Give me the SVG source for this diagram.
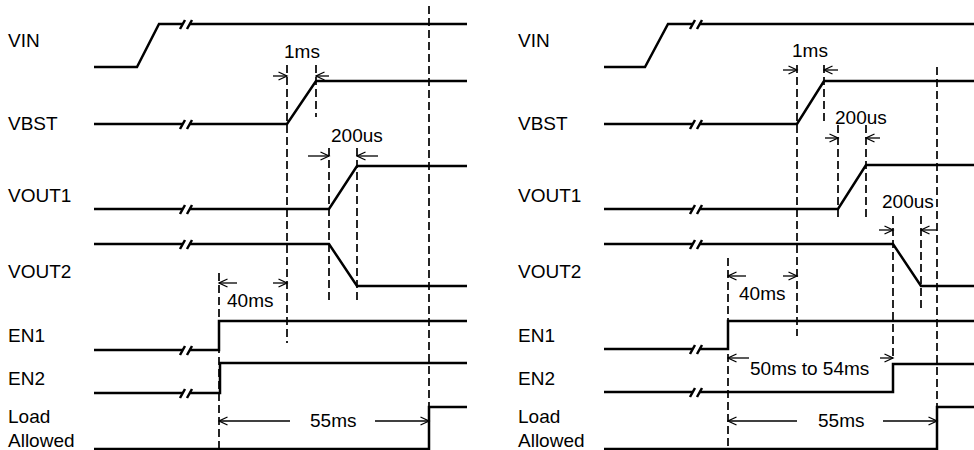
<svg xmlns="http://www.w3.org/2000/svg" width="974" height="450" viewBox="0 0 974 450">
<style>
.sig{stroke:#000;stroke-width:2.5;fill:none;stroke-linejoin:miter}
.dash{stroke:#000;stroke-width:1.7;stroke-dasharray:8 4;fill:none}
.arr{stroke:#000;stroke-width:1.3;fill:none;marker-end:url(#ah)}
text{font-family:"Liberation Sans",Arial,sans-serif;font-size:19px;fill:#000}
</style>
<defs>
<marker id="ah" markerUnits="userSpaceOnUse" markerWidth="11" markerHeight="10" refX="9.5" refY="5" orient="auto">
<path d="M1,1 L9.5,5 L1,9" fill="none" stroke="#000" stroke-width="1.3"/>
</marker>
<g id="brk"><path d="M-6,5 L-1,-4 M1,5 L6,-4" stroke="#000" stroke-width="2.5" fill="none"/></g>
</defs>
<rect width="974" height="450" fill="#fff"/>

<g id="labels-left">
<text x="8" y="47">VIN</text>
<text x="8" y="130">VBST</text>
<text x="8" y="202">VOUT1</text>
<text x="8" y="278">VOUT2</text>
<text x="8" y="342">EN1</text>
<text x="8" y="385">EN2</text>
<text x="8" y="423">Load</text>
<text x="8" y="447">Allowed</text>
</g>
<g id="labels-right">
<text x="518" y="47">VIN</text>
<text x="518" y="130">VBST</text>
<text x="518" y="202">VOUT1</text>
<text x="518" y="278">VOUT2</text>
<text x="518" y="342">EN1</text>
<text x="518" y="385">EN2</text>
<text x="518" y="423">Load</text>
<text x="518" y="447">Allowed</text>
</g>

<g id="signals-left">
<path class="sig" d="M94,67 L137,67 L159,24 L182.5,24 M189.5,24 L467,24"/>
<path class="sig" d="M94,124 L182.5,124 M189.5,124 L287,124 L316,81 L467,81"/>
<path class="sig" d="M94,209 L182.5,209 M189.5,209 L329,209 L357,166 L467,166"/>
<path class="sig" d="M94,244 L182.5,244 M189.5,244 L329,244 L357,286 L467,286"/>
<path class="sig" d="M94,350 L182.5,350 M189.5,350 L219,350 L219,321 L467,321"/>
<path class="sig" d="M94,393 L182.5,393 M189.5,393 L220,393 L220,363 L467,363"/>
<path class="sig" d="M94,449 L429,449 L429,407 L467,407"/>
<use href="#brk" x="186" y="24"/>
<use href="#brk" x="186" y="124"/>
<use href="#brk" x="186" y="209"/>
<use href="#brk" x="186" y="244"/>
<use href="#brk" x="186" y="350"/>
<use href="#brk" x="186" y="393"/>
</g>
<g id="signals-right">
<path class="sig" d="M604,67 L645,67 L668,24 L692.5,24 M699.5,24 L974,24"/>
<path class="sig" d="M604,124 L692.5,124 M699.5,124 L797,124 L824,81 L974,81"/>
<path class="sig" d="M604,209 L692.5,209 M699.5,209 L838,209 L866,165 L974,165"/>
<path class="sig" d="M604,244 L692.5,244 M699.5,244 L893,244 L921,286 L974,286"/>
<path class="sig" d="M604,349 L692.5,349 M699.5,349 L728,349 L728,321 L974,321"/>
<path class="sig" d="M604,392 L692.5,392 M699.5,392 L893,392 L893,364 L974,364"/>
<path class="sig" d="M604,449 L937,449 L937,407 L974,407"/>
<use href="#brk" x="696" y="24"/>
<use href="#brk" x="696" y="124"/>
<use href="#brk" x="696" y="209"/>
<use href="#brk" x="696" y="244"/>
<use href="#brk" x="696" y="349"/>
<use href="#brk" x="696" y="392"/>
</g>

<g id="connectors">
<path class="dash" d="M429,6 V450 M287,65 V343 M316,65 V117 M329,148 V300 M357,148 V300 M219,273 V450"/>
<path class="dash" d="M797,65 V336 M824,65 V124 M838,125 V218 M866,125 V218 M893,216 V358 M921,216 V308 M937,67 V450 M728,258 V450"/>
<line class="arr" x1="273" y1="76" x2="287" y2="76"/>
<line class="arr" x1="329" y1="76" x2="316" y2="76"/>
<line class="arr" x1="308" y1="156" x2="329" y2="156"/>
<line class="arr" x1="378" y1="156" x2="357" y2="156"/>
<line class="arr" x1="237" y1="283" x2="219" y2="283"/>
<line class="arr" x1="273" y1="283" x2="287" y2="283"/>
<line class="arr" x1="290" y1="421" x2="219" y2="421"/>
<line class="arr" x1="375" y1="421" x2="429" y2="421"/>
<line class="arr" x1="783" y1="70" x2="797" y2="70"/>
<line class="arr" x1="838" y1="70" x2="824" y2="70"/>
<line class="arr" x1="825" y1="138" x2="838" y2="138"/>
<line class="arr" x1="880" y1="138" x2="866" y2="138"/>
<line class="arr" x1="879" y1="230" x2="893" y2="230"/>
<line class="arr" x1="937" y1="230" x2="921" y2="230"/>
<line class="arr" x1="746" y1="276" x2="728" y2="276"/>
<line class="arr" x1="783" y1="276" x2="797" y2="276"/>
<line class="arr" x1="749" y1="358" x2="728" y2="358"/>
<line class="arr" x1="880" y1="358" x2="893" y2="358"/>
<line class="arr" x1="797" y1="421" x2="728" y2="421"/>
<line class="arr" x1="883" y1="421" x2="937" y2="421"/>
</g>

<g id="timing-labels">
<text x="284" y="58">1ms</text>
<text x="331" y="142">200us</text>
<text x="227" y="307">40ms</text>
<text x="310" y="427">55ms</text>
<text x="792" y="57">1ms</text>
<text x="835" y="124">200us</text>
<text x="882" y="208">200us</text>
<text x="739" y="300">40ms</text>
<text x="750" y="375">50ms to 54ms</text>
<text x="818" y="427">55ms</text>
</g>
</svg>
